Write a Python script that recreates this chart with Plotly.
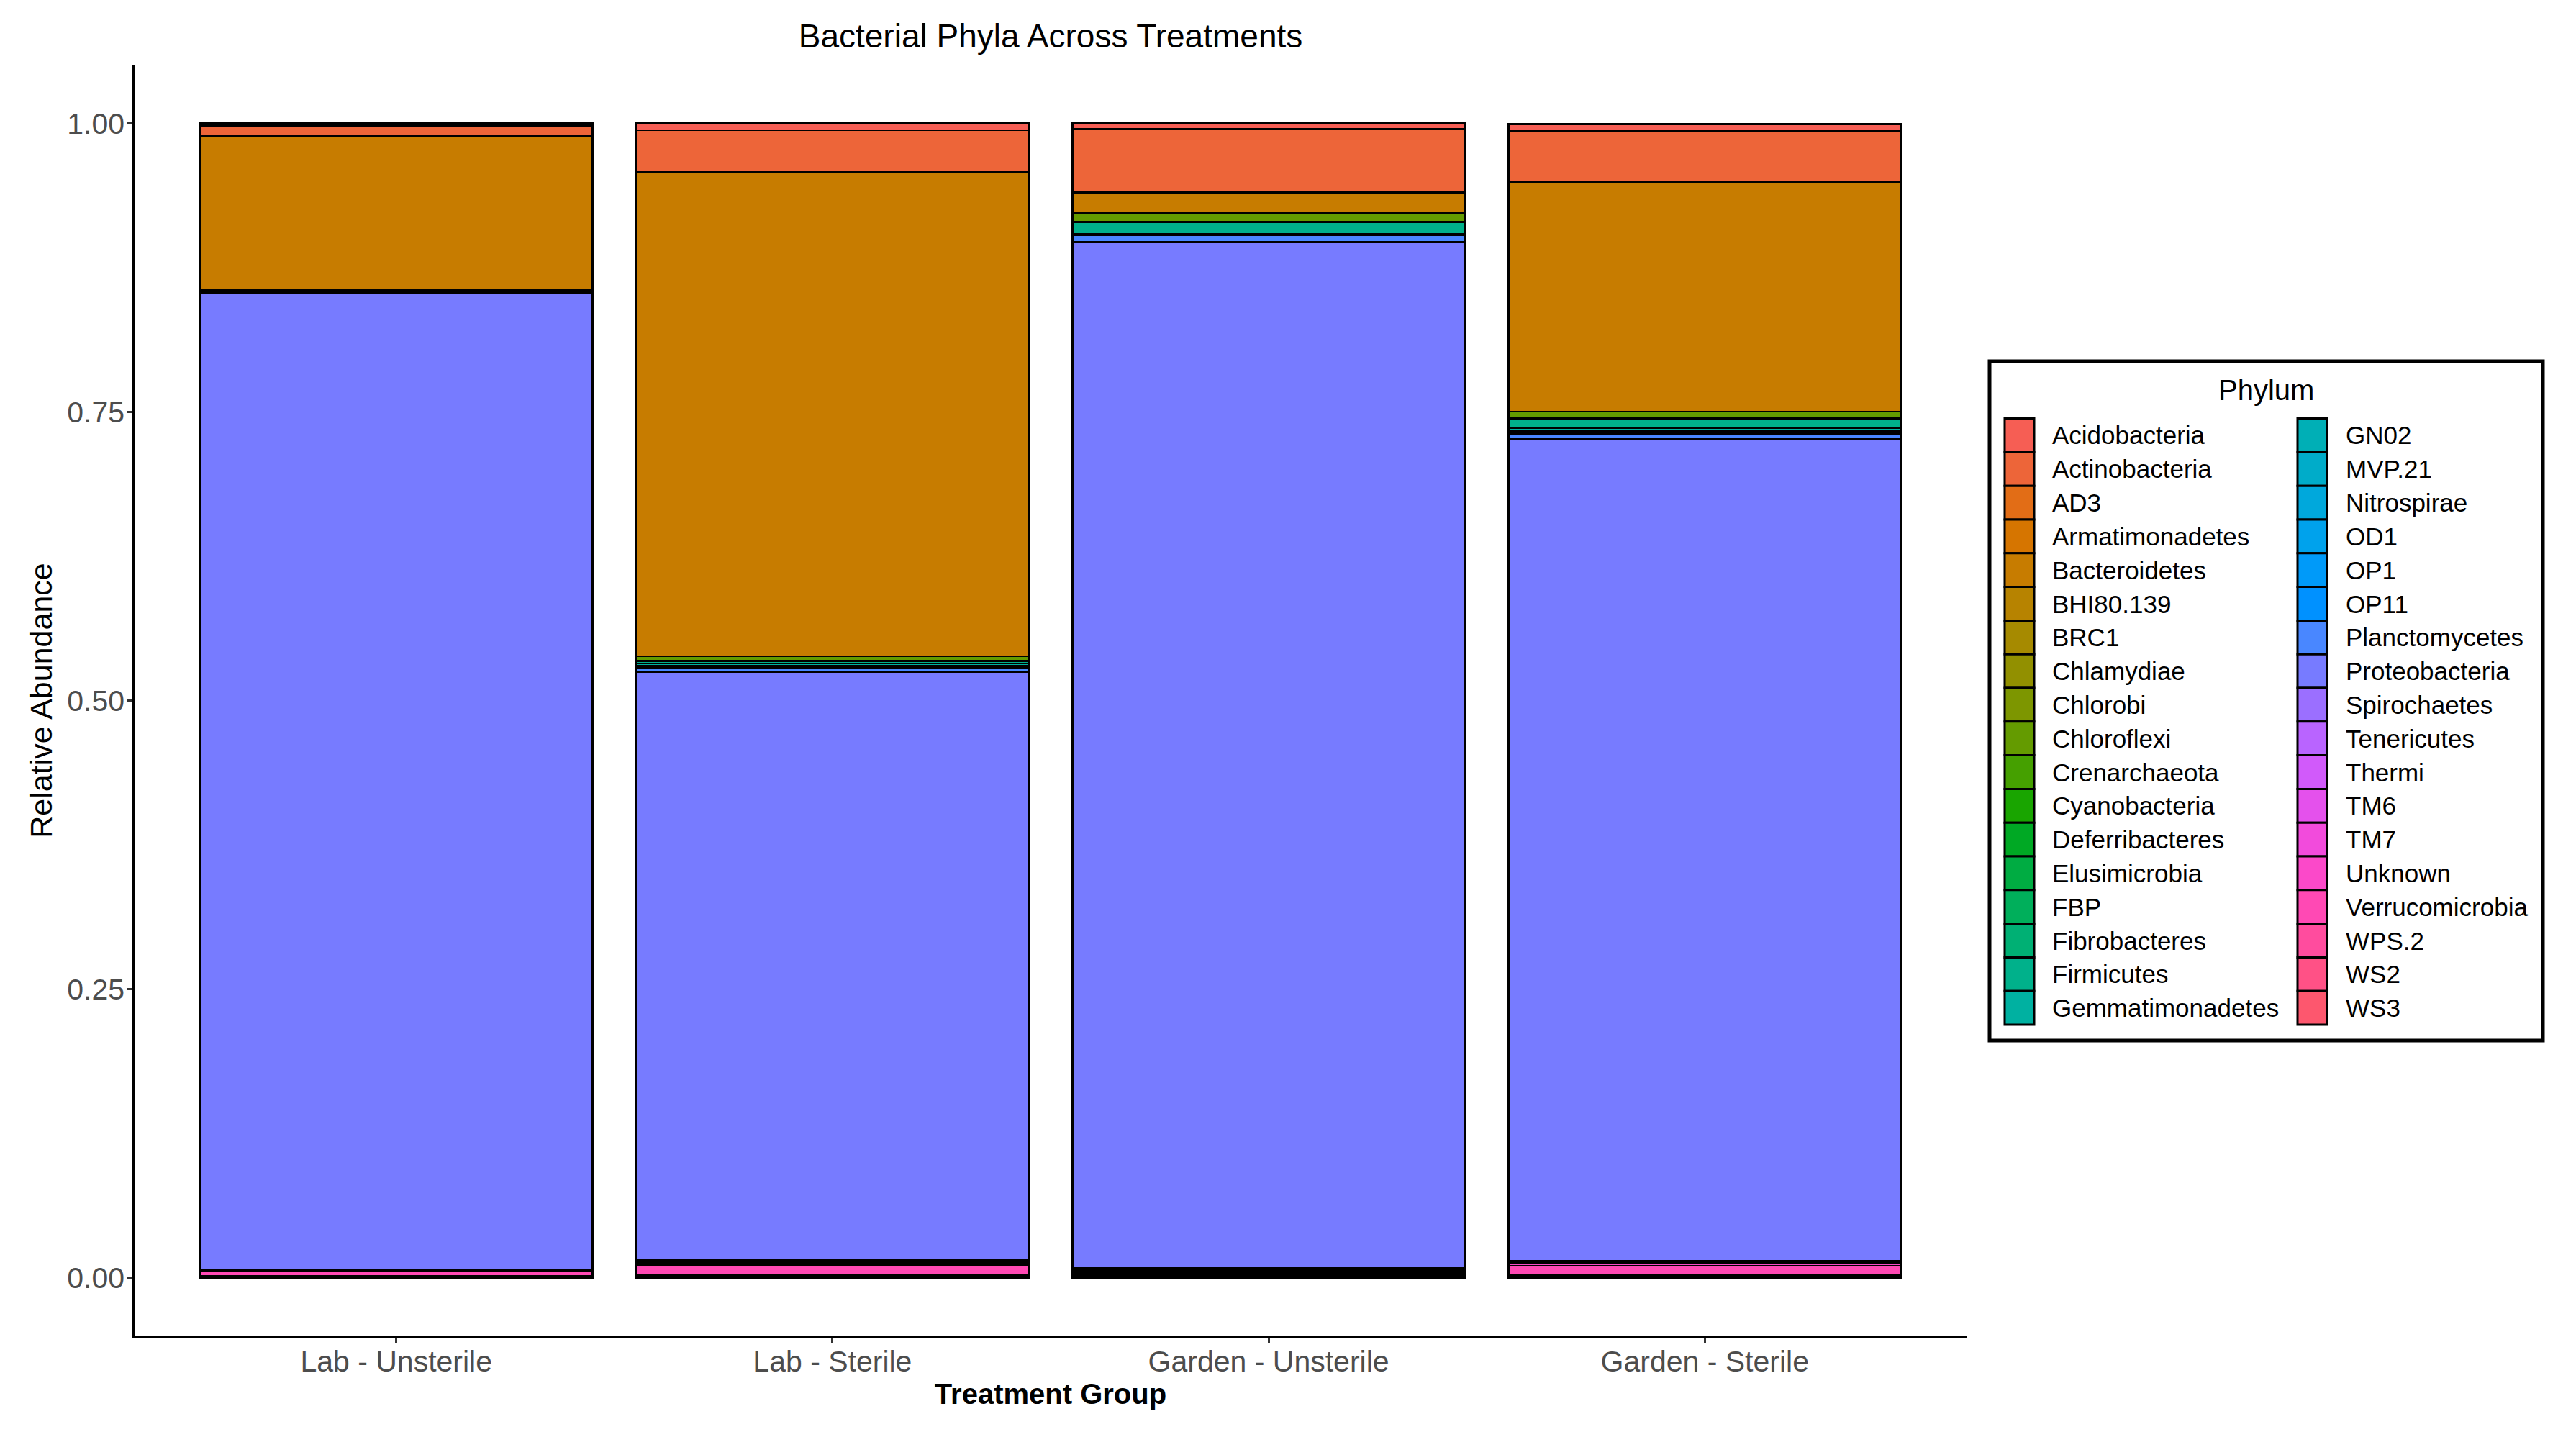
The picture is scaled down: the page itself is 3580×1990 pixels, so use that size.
import math
import plotly.graph_objects as go

# ---------------- data ----------------
treatments = ["Lab - Unsterile", "Lab - Sterile", "Garden - Unsterile", "Garden - Sterile"]

phyla = [
    "Acidobacteria", "Actinobacteria", "AD3", "Armatimonadetes", "Bacteroidetes", "BHI80.139",
    "BRC1", "Chlamydiae", "Chlorobi", "Chloroflexi", "Crenarchaeota", "Cyanobacteria",
    "Deferribacteres", "Elusimicrobia", "FBP", "Fibrobacteres", "Firmicutes", "Gemmatimonadetes",
    "GN02", "MVP.21", "Nitrospirae", "OD1", "OP1", "OP11",
    "Planctomycetes", "Proteobacteria", "Spirochaetes", "Tenericutes", "Thermi", "TM6",
    "TM7", "Unknown", "Verrucomicrobia", "WPS.2", "WS2", "WS3",
]

# relative abundance per phylum (same order as `phyla`)
lab_unsterile = [
    0.002, 0.009, 0, 0, 0.133, 0,
    0, 0, 0, 0.001, 0, 0,
    0, 0, 0, 0, 0.001, 0,
    0, 0, 0, 0, 0, 0,
    0.0012, 0.8455, 0, 0, 0, 0,
    0.001, 0, 0.0048, 0, 0, 0.0015,
]
lab_sterile = [
    0.006, 0.0356, 0, 0, 0.42, 0,
    0, 0, 0, 0.004, 0, 0,
    0, 0, 0, 0, 0.002, 0.002,
    0.0015, 0, 0, 0, 0, 0,
    0.004, 0.5095, 0, 0, 0, 0,
    0.002, 0.002, 0.0087, 0.0012, 0, 0.0013,
]
garden_unsterile = [
    0.005, 0.055, 0, 0, 0.018, 0,
    0, 0, 0, 0.0077, 0, 0,
    0, 0, 0, 0, 0.010, 0.0015,
    0, 0, 0, 0, 0, 0,
    0.0055, 0.889, 0.001, 0, 0, 0,
    0.0012, 0.0012, 0.0015, 0.0012, 0.001, 0.0012,
]
garden_sterile = [
    0.006, 0.0446, 0, 0, 0.1985, 0,
    0, 0, 0, 0.005, 0.0015, 0,
    0, 0, 0, 0, 0.0077, 0.002,
    0.0015, 0, 0.0015, 0, 0, 0,
    0.004, 0.7125, 0, 0, 0, 0,
    0.002, 0.002, 0.008, 0.0012, 0, 0.0013,
]

y_ticks = [0, 0.25, 0.5, 0.75, 1.0]
y_tick_labels = ["0.00", "0.25", "0.50", "0.75", "1.00"]


# ---------------- ggplot-style hue palette (slightly darkened) ----------------
def hcl_hex(h, c=100.0, l=65.0, darken=1.3):
    hr = math.radians(h)
    u = c * math.cos(hr)
    v = c * math.sin(hr)
    Xn, Yn, Zn = 95.047, 100.0, 108.883
    Y = Yn * ((l + 16) / 116) ** 3
    den = Xn + 15 * Yn + 3 * Zn
    un, vn = 4 * Xn / den, 9 * Yn / den
    up = u / (13 * l) + un
    vp = v / (13 * l) + vn
    X = Y * 9 * up / (4 * vp)
    Z = Y * (12 - 3 * up - 20 * vp) / (4 * vp)
    X, Y, Z = X / 100, Y / 100, Z / 100
    r = 3.240479 * X - 1.537150 * Y - 0.498535 * Z
    g = -0.969256 * X + 1.875992 * Y + 0.041556 * Z
    b = 0.055648 * X - 0.204043 * Y + 1.057311 * Z

    def gam(t):
        t = 12.92 * t if t <= 0.0031308 else 1.055 * max(t, 0) ** (1 / 2.4) - 0.055
        t = min(max(t, 0.0), 1.0) ** darken
        return int(round(t * 255))

    return "#{:02X}{:02X}{:02X}".format(gam(r), gam(g), gam(b))


n = len(phyla)
colors = [hcl_hex(15 + 360.0 * i / n) for i in range(n)]

FONT = "Liberation Sans, Arial, sans-serif"

fig = go.Figure()
series = [lab_unsterile, lab_sterile, garden_unsterile, garden_sterile]
# ggplot stacks the first factor level on top -> add traces in reverse
for i in reversed(range(n)):
    vals = [s[i] if s[i] > 0 else None for s in series]
    if all(v is None for v in vals):
        continue
    fig.add_trace(go.Bar(
        x=treatments, y=vals, name=phyla[i], width=0.9,
        marker=dict(color=colors[i], line=dict(color="black", width=2.5)),
        showlegend=False,
    ))

# ---------------- layout ----------------
W, H = 3580, 1990
OFF = 8  # page body offset
L, R, T, B = 187 - OFF, 3580 - 2733 + OFF, 91 - OFF, 1990 - 1856 + OFF
PW, PH = W - L - R, H - T - B


def px_x(px):
    return (px - OFF - L) / PW


def px_y(py):
    return (H - B - (py - OFF)) / PH


fig.update_layout(
    width=W, height=H,
    margin=dict(l=L, r=R, t=T, b=B, autoexpand=False),
    barmode="stack",
    plot_bgcolor="white", paper_bgcolor="white",
    font=dict(family=FONT, color="black"),
    title=dict(text="Bacterial Phyla Across Treatments", x=0.5, xref="paper",
               xanchor="center", y=1 - (50 - OFF) / H, yref="container", yanchor="middle",
               font=dict(size=46, color="black", family=FONT)),
    showlegend=False,
)
fig.update_xaxes(
    type="category", range=[-0.6, 3.6], showgrid=False, zeroline=False,
    showline=True, linecolor="black", linewidth=2.5,
    ticks="outside", ticklen=8, tickwidth=2.5, tickcolor="#333333",
    ticklabelstandoff=-10,
    tickfont=dict(size=41, color="#4D4D4D", family=FONT),
    title=dict(text="<b>Treatment Group</b>", font=dict(size=40, color="black", family=FONT), standoff=4),
)
fig.update_yaxes(
    range=[-0.05, 1.05], showgrid=False, zeroline=False,
    showline=True, linecolor="black", linewidth=2.5,
    ticks="outside", ticklen=8, tickwidth=2.5, tickcolor="#333333",
    ticklabelstandoff=-5,
    tickvals=y_ticks, ticktext=y_tick_labels,
    tickfont=dict(size=41, color="#4D4D4D", family=FONT),
    title=dict(text="Relative Abundance", font=dict(size=43, color="black", family=FONT), standoff=8),
)

# ---------------- legend (ggplot style, two columns, boxed) ----------------
shapes = []
annotations = []
shapes.append(dict(type="rect", xref="paper", yref="paper",
                   x0=px_x(2765), x1=px_x(3534), y0=px_y(1446), y1=px_y(502),
                   line=dict(color="black", width=5), fillcolor="rgba(0,0,0,0)"))
annotations.append(dict(text="Phylum", xref="paper", yref="paper",
                        x=px_x(3150), y=px_y(542), xanchor="center", yanchor="middle",
                        showarrow=False, font=dict(size=40, color="black", family=FONT)))
rows = 18
pitch = 46.8
key_w = 41
for idx, name in enumerate(phyla):
    col, row = divmod(idx, rows)
    cy = 605 + row * pitch
    kx0 = 2786 + col * 407
    shapes.append(dict(type="rect", xref="paper", yref="paper",
                       x0=px_x(kx0), x1=px_x(kx0 + key_w),
                       y0=px_y(cy + pitch / 2), y1=px_y(cy - pitch / 2),
                       line=dict(color="black", width=3), fillcolor=colors[idx]))
    annotations.append(dict(text=name, xref="paper", yref="paper",
                            x=px_x(2850 + col * 408), y=px_y(cy),
                            xanchor="left", yanchor="middle", showarrow=False,
                            font=dict(size=35, color="black", family=FONT)))

fig.update_layout(shapes=shapes, annotations=annotations)

fig.write_html("out.html")
